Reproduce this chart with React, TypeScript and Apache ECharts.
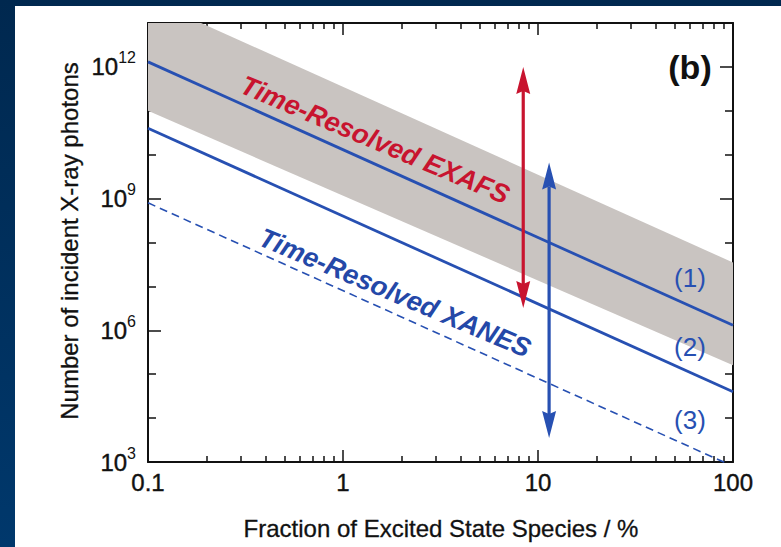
import { useEffect, useRef } from "react";
import * as echarts from "echarts";

// Axis tick values (fraction in %, photon count)
const xMajor = [0.1, 1, 10, 100];
const xMinor = [0.2, 0.3, 0.4, 0.5, 0.6, 0.7, 0.8, 0.9, 2, 3, 4, 5, 6, 7, 8, 9, 20, 30, 40, 50, 60, 70, 80, 90];
const yLabeled = [1e3, 1e6, 1e9, 1e12];
const yMinor = [1e4, 1e5, 1e7, 1e8, 1e10, 1e11];

// Curve end points at the two ends of the fraction axis
const fractionEnds = [0.1, 100];
const line1 = [1.3e12, 1.3e6];
const line2 = [4e10, 4e4];
const line3 = [8e8, 8e2];
const bandLower = [1e11, 1.6e5];
const bandUpper = [3.5e13, 3.5e7];

// Double arrows: position on the fraction axis, top and bottom photon counts
const arrowX = [8.4, 11.4];
const arrowTop = [1e12, 6.6e9];
const arrowBottom = [3.2e6, 3.5e3];

const BLUE = "#2750b2";
const RED = "#c8142f";
const INK = "#111111";
const FONT = "Arial, Liberation Sans, Helvetica, sans-serif";
const arrowColors = [RED, BLUE];

function xAxis(position: string, ticks: number[], len: number, labels: boolean, line: boolean) {
  return {
    type: "log",
    logBase: 10,
    min: 0.1,
    max: 100,
    position,
    gridIndex: 0,
    axisLine: { show: line, lineStyle: { color: INK, width: 2 } },
    axisTick: { show: true, inside: true, length: len, customValues: ticks, lineStyle: { color: INK, width: 1.5 } },
    axisLabel: labels
      ? {
          show: true,
          customValues: xMajor,
          margin: 8,
          color: INK,
          fontSize: 24,
          fontFamily: FONT,
          textBorderColor: INK,
          textBorderWidth: 0.4,
          formatter: (v: number) => (v < 0.5 ? "0.1" : String(Math.round(v))),
        }
      : { show: false },
    splitLine: { show: false },
    minorTick: { show: false },
  };
}

function yAxis(position: string, ticks: number[], len: number, labels: boolean, line: boolean) {
  return {
    type: "log",
    logBase: 10,
    min: 1e3,
    max: 1e13,
    position,
    gridIndex: 0,
    axisLine: { show: line, lineStyle: { color: INK, width: 2 } },
    axisTick: { show: true, inside: true, length: len, customValues: ticks, lineStyle: { color: INK, width: 1.5 } },
    axisLabel: labels
      ? {
          show: true,
          customValues: yLabeled,
          margin: 12,
          color: INK,
          fontFamily: FONT,
          formatter: (v: number) => `{b|10}{s|${Math.round(Math.log10(v))}}`,
          rich: {
            b: { fontSize: 24, lineHeight: 34, fontFamily: FONT, color: INK, textBorderColor: INK, textBorderWidth: 0.4 },
            s: { fontSize: 16, lineHeight: 16, verticalAlign: "top", fontFamily: FONT, color: INK },
          },
        }
      : { show: false },
    splitLine: { show: false },
    minorTick: { show: false },
  };
}

function straight(values: number[]) {
  return fractionEnds.map((x, i) => [x, values[i]]);
}

export default function App() {
  const ref = useRef<HTMLDivElement>(null);

  useEffect(() => {
    const chart = echarts.init(ref.current!, null, { renderer: "svg", width: 781, height: 547 });

    const option: any = {
      animation: false,
      backgroundColor: "transparent",
      grid: { left: 148, top: 23, width: 585, height: 439, containLabel: false, outerBoundsMode: "none" },
      xAxis: [
        xAxis("bottom", xMajor, 12, true, true),
        xAxis("bottom", xMinor, 6, false, false),
        xAxis("top", xMajor, 12, false, true),
        xAxis("top", xMinor, 6, false, false),
      ],
      yAxis: [
        yAxis("left", yLabeled, 13, true, true),
        yAxis("left", yMinor, 8, false, false),
        yAxis("right", yLabeled, 13, false, true),
        yAxis("right", yMinor, 8, false, false),
      ],
      series: [
        {
          type: "custom",
          name: "band",
          xAxisIndex: 0,
          yAxisIndex: 0,
          z: 1,
          data: fractionEnds.map((x, i) => [x, bandLower[i], bandUpper[i]]),
          encode: { x: 0, y: [1, 2] },
          renderItem: (params: any, api: any) => {
            if (params.dataIndex !== 0) return null;
            const lower = fractionEnds.map((x, i) => api.coord([x, bandLower[i]]));
            const upper = fractionEnds.map((x, i) => api.coord([x, bandUpper[i]])).reverse();
            const cs = params.coordSys;
            return {
              type: "polygon",
              shape: { points: [...lower, ...upper] },
              style: { fill: "#c9c4c1" },
              clipPath: { type: "rect", shape: { x: cs.x, y: cs.y, width: cs.width, height: cs.height } },
            };
          },
        },
        {
          type: "line",
          name: "(1)",
          data: straight(line1),
          showSymbol: false,
          symbol: "none",
          z: 3,
          lineStyle: { color: BLUE, width: 2.8 },
        },
        {
          type: "line",
          name: "(2)",
          data: straight(line2),
          showSymbol: false,
          symbol: "none",
          z: 3,
          lineStyle: { color: BLUE, width: 2.8 },
        },
        {
          type: "line",
          name: "(3)",
          data: straight(line3),
          showSymbol: false,
          symbol: "none",
          z: 3,
          clip: true,
          lineStyle: { color: BLUE, width: 1.6, type: [8, 5] },
        },
        {
          type: "custom",
          name: "arrows",
          xAxisIndex: 0,
          yAxisIndex: 0,
          z: 4,
          data: arrowX.map((x, i) => [x, arrowTop[i], arrowBottom[i]]),
          encode: { x: 0, y: [1, 2] },
          renderItem: (params: any, api: any) => {
            const x = api.value(0);
            const p1 = api.coord([x, api.value(1)]);
            const p2 = api.coord([x, api.value(2)]);
            const color = arrowColors[params.dataIndex];
            const hl = 27;
            const hw = 7;
            const notch = 3;
            return {
              type: "group",
              children: [
                {
                  type: "line",
                  shape: { x1: p1[0], y1: p1[1] + hl - notch, x2: p2[0], y2: p2[1] - hl + notch },
                  style: { stroke: color, lineWidth: 3.2 },
                },
                {
                  type: "polygon",
                  shape: {
                    points: [
                      [p1[0], p1[1]],
                      [p1[0] + hw, p1[1] + hl],
                      [p1[0], p1[1] + hl - notch],
                      [p1[0] - hw, p1[1] + hl],
                    ],
                  },
                  style: { fill: color },
                },
                {
                  type: "polygon",
                  shape: {
                    points: [
                      [p2[0], p2[1]],
                      [p2[0] + hw, p2[1] - hl],
                      [p2[0], p2[1] - hl + notch],
                      [p2[0] - hw, p2[1] - hl],
                    ],
                  },
                  style: { fill: color },
                },
              ],
            };
          },
        },
      ],
      graphic: [
        {
          type: "text",
          x: 375,
          y: 140,
          rotation: -0.4,
          z: 10,
          style: {
            text: "Time-Resolved EXAFS",
            fill: RED,
            fontSize: 27,
            fontWeight: "bold",
            fontStyle: "italic",
            fontFamily: FONT,
            align: "center",
            verticalAlign: "middle",
          },
        },
        {
          type: "text",
          x: 395,
          y: 293,
          rotation: -0.4,
          z: 10,
          style: {
            text: "Time-Resolved XANES",
            fill: "#2448a8",
            fontSize: 27,
            fontWeight: "bold",
            fontStyle: "italic",
            fontFamily: FONT,
            align: "center",
            verticalAlign: "middle",
          },
        },
        ...["(1)", "(2)", "(3)"].map((t, i) => ({
          type: "text",
          x: 690,
          y: [278, 347, 420][i],
          z: 10,
          style: { text: t, fill: BLUE, fontSize: 26, fontFamily: FONT, align: "center", verticalAlign: "middle" },
        })),
        {
          type: "text",
          x: 690,
          y: 67,
          z: 10,
          style: { text: "(b)", fill: INK, fontSize: 34, fontWeight: "bold", fontFamily: FONT, align: "center", verticalAlign: "middle" },
        },
        {
          type: "text",
          x: 441,
          y: 528,
          z: 10,
          style: {
            text: "Fraction of Excited State Species / %",
            fill: INK,
            stroke: INK,
            lineWidth: 0.3,
            fontSize: 24,
            fontFamily: FONT,
            align: "center",
            verticalAlign: "middle",
          },
        },
        {
          type: "text",
          x: 69,
          y: 241,
          rotation: Math.PI / 2,
          z: 10,
          style: {
            text: "Number of incident X-ray photons",
            fill: INK,
            stroke: INK,
            lineWidth: 0.3,
            fontSize: 24,
            fontFamily: FONT,
            align: "center",
            verticalAlign: "middle",
          },
        },
      ],
    };

    chart.setOption(option);
    return () => chart.dispose();
  }, []);

  return (
    <div
      style={{
        position: "fixed",
        left: 0,
        top: 0,
        width: 781,
        height: 547,
        background: "linear-gradient(#00284f, #00386c)",
        overflow: "hidden",
      }}
    >
      <div style={{ position: "absolute", left: 15, top: 6, width: 766, height: 541, background: "#ffffff" }} />
      <div ref={ref} style={{ position: "absolute", left: 0, top: 0, width: 781, height: 547 }} />
    </div>
  );
}
